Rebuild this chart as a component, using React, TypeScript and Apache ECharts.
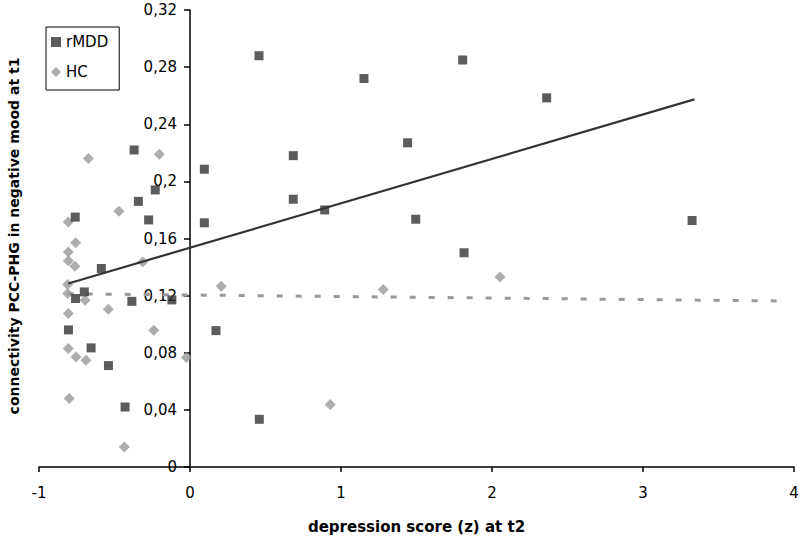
import { useEffect, useRef } from "react";
import * as echarts from "echarts";

// rMDD group: [depression score z at t2, connectivity PCC-PHG]
const rMDDPoints: [number, number][] = [
  [0.457, 0.288], [-0.37, 0.222], [0.095, 0.2085], [-0.23, 0.194], [-0.342, 0.186],
  [-0.76, 0.175], [-0.274, 0.173], [0.095, 0.171], [-0.587, 0.139], [-0.7, 0.1226],
  [-0.758, 0.118], [-0.385, 0.116], [-0.12, 0.117], [-0.805, 0.096], [0.172, 0.0955],
  [-0.655, 0.0834], [-0.54, 0.071], [-0.43, 0.042], [0.459, 0.0334], [1.152, 0.272],
  [1.806, 0.285], [1.441, 0.227], [0.684, 0.218], [0.684, 0.1875], [0.892, 0.18],
  [1.495, 0.1735], [1.815, 0.15], [2.362, 0.2585], [3.325, 0.1726],
];

// HC group
const hcPoints: [number, number][] = [
  [-0.673, 0.216], [-0.203, 0.219], [-0.47, 0.179], [-0.806, 0.1716], [-0.757, 0.157],
  [-0.806, 0.1506], [-0.806, 0.1445], [-0.762, 0.1406], [-0.313, 0.1436], [-0.81, 0.1278],
  [-0.81, 0.1215], [-0.695, 0.1168], [-0.541, 0.1105], [-0.806, 0.1075], [-0.24, 0.0958],
  [-0.806, 0.083], [-0.755, 0.077], [-0.689, 0.0747], [-0.024, 0.0766], [-0.8, 0.048],
  [-0.435, 0.014], [0.207, 0.1266], [1.28, 0.1243], [0.929, 0.0437], [2.053, 0.1331],
];

// linear trend lines (endpoints)
const rMDDTrend: [number, number][] = [[-0.806, 0.1285], [3.34, 0.2574]];
const hcTrend: [number, number][] = [[-0.81, 0.1213], [3.97, 0.1162]];

const xTickLabels = ["-1", "0", "1", "2", "3", "4"];
const yTickLabels = ["0", "0,04", "0,08", "0,12", "0,16", "0,2", "0,24", "0,28", "0,32"];

const FONT = '"DejaVu Sans", sans-serif';

const GRID_LEFT = 39;
const GRID_RIGHT = 6;
const CHART_W = 800;
const X_MIN = -1;
const X_MAX = 4;
// y axis crosses the x axis at x = 0
const Y_AXIS_SHIFT = ((0 - X_MIN) / (X_MAX - X_MIN)) * (CHART_W - GRID_LEFT - GRID_RIGHT);

export default function App() {
  const ref = useRef<HTMLDivElement>(null);

  useEffect(() => {
    if (!ref.current) return;
    const chart = echarts.init(ref.current, undefined, { renderer: "svg" });
    chart.setOption({
      animation: false,
      backgroundColor: "#ffffff",
      grid: {
        left: GRID_LEFT,
        right: GRID_RIGHT,
        top: 10,
        bottom: 71,
        containLabel: false,
        outerBoundsMode: "none",
      },
      legend: {
        orient: "vertical",
        left: 46,
        top: 27,
        data: [
          { name: "rMDD", icon: "rect" },
          { name: "HC", icon: "diamond" },
        ],
        itemWidth: 10,
        itemHeight: 10,
        itemGap: 14,
        padding: [7, 11, 10, 5],
        borderColor: "#000",
        borderWidth: 1,
        backgroundColor: "#fff",
        textStyle: { fontFamily: FONT, fontSize: 15, color: "#000", lineHeight: 16 },
      },
      xAxis: {
        type: "value",
        min: X_MIN,
        max: X_MAX,
        interval: 1,
        name: "depression score (z) at t2",
        nameLocation: "middle",
        nameGap: 52,
        nameTextStyle: { fontFamily: FONT, fontSize: 15, fontWeight: "bold", color: "#000" },
        axisLine: { onZero: false, lineStyle: { color: "#000", width: 1.5 } },
        axisTick: { show: true, length: 5, lineStyle: { color: "#000", width: 1.5 } },
        axisLabel: {
          margin: 18,
          fontFamily: FONT,
          fontSize: 15,
          color: "#000",
          formatter: (v: number) => xTickLabels[Math.round(v - X_MIN)],
        },
        splitLine: { show: false },
      },
      yAxis: {
        type: "value",
        min: 0,
        max: 0.32,
        interval: 0.04,
        offset: -Y_AXIS_SHIFT,
        axisLine: { show: true, onZero: false, lineStyle: { color: "#000", width: 1.5 } },
        axisTick: { show: true, length: 6, lineStyle: { color: "#000", width: 1.5 } },
        axisLabel: {
          margin: 13,
          fontFamily: FONT,
          fontSize: 15,
          color: "#000",
          formatter: (v: number) => yTickLabels[Math.round(v / 0.04)],
        },
        splitLine: { show: false },
      },
      graphic: [
        {
          type: "text",
          x: 14,
          y: 236,
          rotation: Math.PI / 2,
          style: {
            text: "connectivity PCC-PHG in negative mood at t1",
            font: 'bold 14px "DejaVu Sans", sans-serif',
            fill: "#000",
            align: "center",
            verticalAlign: "middle",
          },
        },
      ],
      series: [
        {
          name: "HC trend",
          type: "line",
          data: hcTrend,
          symbol: "none",
          silent: true,
          lineStyle: { color: "#999999", width: 3, type: [6, 13] },
          z: 1,
        },
        {
          name: "HC",
          type: "scatter",
          data: hcPoints,
          symbol: "diamond",
          symbolSize: 11,
          itemStyle: { color: "#999999" },
          z: 2,
        },
        {
          name: "rMDD",
          type: "scatter",
          data: rMDDPoints,
          symbol: "rect",
          symbolSize: 9,
          itemStyle: { color: "#333333" },
          z: 3,
        },
        {
          name: "rMDD trend",
          type: "line",
          data: rMDDTrend,
          symbol: "none",
          silent: true,
          lineStyle: { color: "#333333", width: 2.2 },
          z: 4,
        },
      ],
    });
    return () => chart.dispose();
  }, []);

  return (
    <div
      ref={ref}
      style={{ position: "fixed", left: 0, top: 0, width: 800, height: 538, background: "#fff" }}
    />
  );
}
